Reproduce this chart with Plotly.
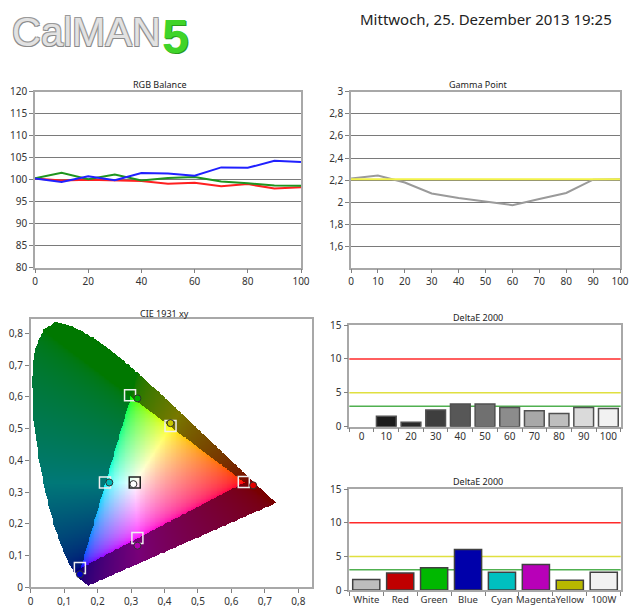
import numpy as np
import plotly.graph_objects as go

# ---------------- data ----------------
rgb_x = [0, 10, 20, 30, 40, 50, 60, 70, 80, 90, 100]
rgb_red = [100.3, 99.8, 100.0, 99.8, 99.7, 99.1, 99.3, 98.5, 99.0, 98.0, 98.3]
rgb_green = [100.3, 101.6, 100.1, 101.2, 99.8, 100.4, 100.6, 99.6, 99.2, 98.7, 98.6]
rgb_blue = [100.3, 99.5, 100.8, 99.9, 101.5, 101.4, 100.9, 102.8, 102.7, 104.3, 104.0]

gamma_x = [0, 10, 20, 30, 40, 50, 60, 70, 80, 90, 100]
gamma_vals = [2.215, 2.242, 2.18, 2.08, 2.04, 2.01, 1.975, 2.03, 2.085, 2.205, 2.21]
gamma_target = 2.21

de_gray_cats = ["0", "10", "20", "30", "40", "50", "60", "70", "80", "90", "100"]
de_gray_vals = [0, 1.55, 0.65, 2.45, 3.35, 3.35, 2.85, 2.35, 1.95, 2.85, 2.7]
de_gray_cols = ["#101010", "#1c1c1c", "#2a2a2a", "#3e3e3e", "#575757", "#707070",
                "#8c8c8c", "#a8a8a8", "#bebebe", "#dadada", "#f2f2f2"]

de_col_cats = ["White", "Red", "Green", "Blue", "Cyan", "Magenta", "Yellow", "100W"]
de_col_vals = [1.55, 2.55, 3.3, 6.05, 2.65, 3.8, 1.45, 2.65]
de_col_cols = ["#bdbdbd", "#c00000", "#00b800", "#0000aa", "#00c0c0", "#b800b8",
               "#b8b800", "#f2f2f2"]

de_thresholds = [10, 5, 3]
de_threshold_cols = ["#ff2a2a", "#e0e040", "#50b050"]

# CIE 1931 spectral locus (x, y)
locus_x = [0.1741, 0.1738, 0.1733, 0.1726, 0.1714, 0.1689, 0.1644, 0.1566, 0.1440, 0.1355,
           0.1241, 0.1096, 0.0913, 0.0687, 0.0454, 0.0235, 0.0082, 0.0039, 0.0139, 0.0389,
           0.0743, 0.1142, 0.1547, 0.1929, 0.2296, 0.2658, 0.3016, 0.3373, 0.3731, 0.4087,
           0.4441, 0.4788, 0.5125, 0.5448, 0.5752, 0.6029, 0.6270, 0.6482, 0.6658, 0.6915,
           0.7079, 0.7190, 0.7260, 0.7300, 0.7334, 0.7347]
locus_y = [0.0050, 0.0049, 0.0048, 0.0048, 0.0051, 0.0069, 0.0109, 0.0177, 0.0297, 0.0399,
           0.0578, 0.0868, 0.1327, 0.2007, 0.2950, 0.4127, 0.5384, 0.6548, 0.7502, 0.8120,
           0.8338, 0.8262, 0.8059, 0.7816, 0.7543, 0.7243, 0.6923, 0.6589, 0.6245, 0.5896,
           0.5547, 0.5202, 0.4866, 0.4544, 0.4242, 0.3965, 0.3725, 0.3514, 0.3340, 0.3083,
           0.2920, 0.2809, 0.2740, 0.2700, 0.2666, 0.2653]

# targets (squares) and measured (circles)
pt_names = ["Red", "Green", "Blue", "Cyan", "Magenta", "Yellow", "White"]
target_x = [0.637, 0.297, 0.147, 0.222, 0.319, 0.418, 0.311]
target_y = [0.332, 0.605, 0.061, 0.330, 0.155, 0.508, 0.330]
target_line = ["#f0f0f0", "#f0f0f0", "#f0f0f0", "#f0f0f0", "#f0f0f0", "#f0f0f0", "#202020"]
meas_x = [0.665, 0.319, 0.147, 0.235, 0.319, 0.418, 0.307]
meas_y = [0.321, 0.595, 0.041, 0.330, 0.131, 0.517, 0.325]
meas_fill = ["#e00000", "#00b000", "#0000c8", "#00b8b8", "#b000b0", "#c8c800", "#ffffff"]

# ---------------- CIE background image ----------------
step = 0.0025
gx = np.arange(0, 0.7425, step)
gy = np.arange(0, 0.8425, step)
XX, YY = np.meshgrid(gx, gy)
px = np.array(locus_x + [locus_x[0]])
py = np.array(locus_y + [locus_y[0]])
inside = np.zeros(XX.shape, dtype=bool)
for i in range(len(px) - 1):
    x1, y1, x2, y2 = px[i], py[i], px[i + 1], py[i + 1]
    cond = ((y1 > YY) != (y2 > YY))
    with np.errstate(divide="ignore", invalid="ignore"):
        xint = (x2 - x1) * (YY - y1) / (y2 - y1 + 1e-12) + x1
    inside ^= cond & (XX < xint)
Ys = np.maximum(YY, 1e-4)
X = XX / Ys
Z = (1 - XX - YY) / Ys
M = np.array([[3.2406, -1.5372, -0.4986], [-0.9689, 1.8758, 0.0415], [0.0557, -0.2040, 1.0570]])
lin = np.stack([M[k, 0] * X + M[k, 1] * 1.0 + M[k, 2] * Z for k in range(3)], axis=-1)
ingamut = np.all(lin >= 0, axis=-1)
lin = np.clip(lin, 0, None)
mx = np.max(lin, axis=-1, keepdims=True)
mx[mx == 0] = 1
lin = lin / mx
srgb = np.where(lin <= 0.0031308, 12.92 * lin, 1.055 * np.power(lin, 1 / 2.4) - 0.055)
fac = np.where(ingamut, 1.0, 0.47)[..., None]
img = (srgb * fac * 255).round()
img[~inside] = 255
img = img.astype(np.uint8)

# ---------------- figure ----------------
fig = go.Figure()
FONT = "Noto Sans, Open Sans, sans-serif"
tickfont = dict(family=FONT, size=10, color="#333333")

fig.add_trace(go.Scatter(x=rgb_x, y=rgb_red, mode="lines", line=dict(color="#ff2020", width=2),
                         xaxis="x", yaxis="y", showlegend=False))
fig.add_trace(go.Scatter(x=rgb_x, y=rgb_green, mode="lines", line=dict(color="#1f951f", width=2),
                         xaxis="x", yaxis="y", showlegend=False))
fig.add_trace(go.Scatter(x=rgb_x, y=rgb_blue, mode="lines", line=dict(color="#2020ff", width=2),
                         xaxis="x", yaxis="y", showlegend=False))

fig.add_trace(go.Scatter(x=gamma_x, y=gamma_vals, mode="lines", line=dict(color="#9a9a9a", width=2),
                         xaxis="x2", yaxis="y2", showlegend=False))
fig.add_trace(go.Scatter(x=[gamma_x[0], gamma_x[-1]], y=[gamma_target, gamma_target], mode="lines",
                         line=dict(color="#f2f24a", width=2), xaxis="x2", yaxis="y2", showlegend=False))

fig.add_trace(go.Image(z=img, x0=0, dx=step, y0=0, dy=step, xaxis="x3", yaxis="y3", hoverinfo="skip"))
fig.add_trace(go.Scatter(x=target_x, y=target_y, mode="markers",
                         marker=dict(symbol="square-open", size=11, color=target_line,
                                     line=dict(width=1.5, color=target_line)),
                         xaxis="x3", yaxis="y3", showlegend=False))
fig.add_trace(go.Scatter(x=meas_x, y=meas_y, mode="markers",
                         marker=dict(symbol="circle", size=7, color=meas_fill,
                                     line=dict(width=1, color="#303030")),
                         xaxis="x3", yaxis="y3", showlegend=False))

gray_line_w = [0 if v == 0 else 1.5 for v in de_gray_vals]
fig.add_trace(go.Bar(x=de_gray_cats, y=de_gray_vals, marker=dict(color=de_gray_cols,
                     line=dict(color="#505050", width=gray_line_w)), width=0.8,
                     xaxis="x4", yaxis="y4", showlegend=False))
fig.add_trace(go.Bar(x=de_col_cats, y=de_col_vals, marker=dict(color=de_col_cols,
                     line=dict(color="#404040", width=1.5)), width=0.8,
                     xaxis="x5", yaxis="y5", showlegend=False))

for ax in ["4", "5"]:
    for v, c in zip(de_thresholds, de_threshold_cols):
        fig.add_shape(type="line", xref=f"x{ax} domain", yref=f"y{ax}", x0=0, x1=1, y0=v, y1=v,
                      line=dict(color=c, width=1.5), layer="below")

# page body has an 8px margin: the figure is drawn at (8, 8) in the window
OFF = 8
W, H = 640 - OFF, 608 - OFF
def xd(a, b):
    return [(a - OFF) / W, (b - OFF) / W]
def yd(top, bottom):
    return [1 - (bottom - OFF) / H, 1 - (top - OFF) / H]
def px_x(a):
    return (a - OFF) / W
def px_y(b):
    return 1 - (b - OFF) / H

frame = dict(showline=True, mirror=True, linecolor="#a8a8a8", linewidth=1.5, ticks="outside",
             ticklen=4, tickcolor="#808080", tickfont=tickfont, zeroline=False, automargin=False)

fig.update_layout(
    width=W, height=H, margin=dict(l=0, r=0, t=0, b=0, autoexpand=False),
    paper_bgcolor="white", plot_bgcolor="white", separators=",.",
    bargap=0.2,
    xaxis=dict(domain=xd(35, 301), range=[0, 100], dtick=20, tick0=0, showgrid=False, anchor="y", **frame),
    yaxis=dict(domain=yd(91.7, 267.7), range=[80, 120], dtick=5, tick0=80, showgrid=True,
               gridcolor="#7a7a7a", gridwidth=1, anchor="x", **frame),
    xaxis2=dict(domain=xd(351, 620), range=[0, 100], dtick=10, tick0=0, showgrid=False, anchor="y2", **frame),
    yaxis2=dict(domain=yd(91.7, 267.7), range=[1.41, 3], dtick=0.2, tick0=1.6, showgrid=True,
                gridcolor="#7a7a7a", gridwidth=1, anchor="x2", **frame),
    xaxis3=dict(domain=xd(30.7, 311.7), range=[0, 0.84], dtick=0.1, tick0=0, showgrid=False,
                anchor="y3", autorange=False, **frame),
    yaxis3=dict(domain=yd(319.3, 587.3), range=[0, 0.844], dtick=0.1, tick0=0, showgrid=False,
                anchor="x3", autorange=False, scaleanchor=False, **frame),
    xaxis4=dict(domain=xd(349.3, 620.7), type="category", showgrid=False, anchor="y4",
                tickson="boundaries", tickangle=0, **frame),
    yaxis4=dict(domain=yd(325, 426.7), range=[0, 15], dtick=5, tick0=0, showgrid=False, anchor="x4", **frame),
    xaxis5=dict(domain=xd(349.3, 620.7), type="category", showgrid=False, anchor="y5",
                tickson="boundaries", tickangle=0, **frame),
    yaxis5=dict(domain=yd(489.3, 590), range=[0, 15], dtick=5, tick0=0, showgrid=False, anchor="x5", **frame),
)
fig.update_layout(xaxis5_tickfont=dict(family=FONT, size=9.5, color="#333333"))

def title(text, xc, yc):
    fig.add_annotation(text=text, x=px_x(xc), y=px_y(yc), xref="paper", yref="paper",
                       showarrow=False, font=dict(family=FONT, size=9, color="#222222"),
                       xanchor="center", yanchor="middle")

title("RGB Balance", 160, 84.5)
title("Gamma Point", 478, 84.5)
title("CIE 1931 xy", 164, 313)
title("DeltaE 2000", 478, 317)
title("DeltaE 2000", 478, 481.5)

outline = "-1px -1px 0 #9a9a9a, 1px -1px 0 #9a9a9a, -1px 1px 0 #8a8a8a, 1px 1px 0 #8a8a8a"
fig.add_annotation(text="CalMAN", x=px_x(10), y=1, xref="paper", yref="paper", showarrow=False,
                   font=dict(family="Liberation Sans, sans-serif", size=40, color="#e2e2e2",
                             shadow=outline),
                   xanchor="left", yanchor="top")
fig.add_annotation(text="<b>5</b>", x=px_x(160), y=1, xref="paper", yref="paper", showarrow=False,
                   font=dict(family="Liberation Sans, sans-serif", size=48, color="#3fd42a",
                             shadow="1px 1px 0 #2a9a1a"),
                   xanchor="left", yanchor="top")
fig.add_annotation(text="Mittwoch, 25. Dezember 2013 19:25", x=px_x(613), y=1, xref="paper",
                   yref="paper", showarrow=False, font=dict(family=FONT, size=15, color="#222222"),
                   xanchor="right", yanchor="top", borderpad=0)

fig.write_html("out.html")
